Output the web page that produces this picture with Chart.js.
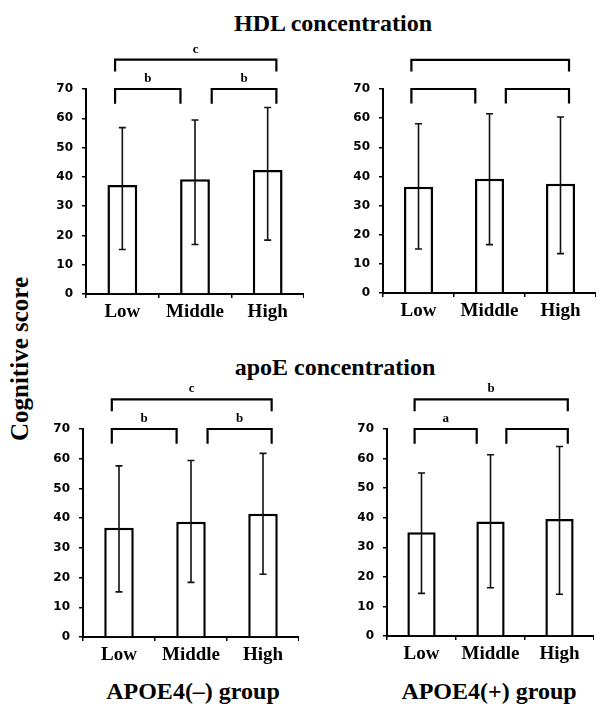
<!DOCTYPE html>
<html>
<head>
  <meta charset="UTF-8">
  <title>Cognitive score by HDL and apoE concentration</title>
  <script src="https://cdn.jsdelivr.net/npm/chart.js"></script>
  <style>
    body {
      margin: 0;
      padding: 0;
      width: 596px;
      height: 706px;
      position: relative;
      background-color: white;
      overflow: hidden;
      font-family: "Liberation Serif", "Times New Roman", serif;
      font-weight: bold;
      color: #000;
    }
    canvas {
      position: absolute;
    }
    .txt {
      position: absolute;
      white-space: nowrap;
      line-height: 1;
      transform: translate(-50%, -50%);
      font-size: 24px;
    }
  </style>
</head>
<body>
  <div class="txt" style="left:333px; top:23px;">HDL concentration</div>
  <div class="txt" style="left:335px; top:367px;">apoE concentration</div>
  <div class="txt" style="left:193px; top:691px;">APOE4(–) group</div>
  <div class="txt" style="left:489px; top:691px;">APOE4(+) group</div>
  <div class="txt" style="left:19px; top:359px; font-size:25px; transform: translate(-50%, -50%) rotate(-90deg);">Cognitive score</div>

  <canvas id="hdlNeg"></canvas>
  <canvas id="hdlPos"></canvas>
  <canvas id="apoeNeg"></canvas>
  <canvas id="apoePos"></canvas>

  <script type="text/javascript">
    const categories = ['Low', 'Middle', 'High'];
    const yTicks = [0, 10, 20, 30, 40, 50, 60, 70];

    // mean and error bar ends
    const hdlNegMean  = [37.2, 39.2, 42.3];
    const hdlNegUpper = [56.8, 59.4, 63.7];
    const hdlNegLower = [15.2, 16.9, 18.4];

    const hdlPosMean  = [36.5, 39.2, 37.5];
    const hdlPosUpper = [58.1, 61.5, 60.4];
    const hdlPosLower = [15.1, 16.6, 13.5];

    const apoeNegMean  = [36.8, 38.8, 41.5];
    const apoeNegUpper = [57.6, 59.4, 61.8];
    const apoeNegLower = [15.2, 18.4, 21.1];

    const apoePosMean  = [35.1, 38.7, 39.6];
    const apoePosUpper = [55.1, 61.3, 64.1];
    const apoePosLower = [14.4, 16.3, 14.1];

    // comparison brackets: Low-Middle, Middle-High, Low-High
    const bracketFrom  = [-0.1, 1.23, -0.1];
    const bracketTo    = [0.8, 2.12, 2.12];
    const bracketLevel = [70, 70, 80];
    const hdlNegLetters  = ['b', 'b', 'c'];
    const hdlPosLetters  = ['', '', ''];
    const apoeNegLetters = ['b', 'b', 'c'];
    const apoePosLetters = ['a', '', 'b'];

    // panel placement: y axis x, 70-line y, zero-line y, right end
    const panels = [
      { id: 'hdlNeg',  mean: hdlNegMean,  upper: hdlNegUpper,  lower: hdlNegLower,  letters: hdlNegLetters,  ax: 86,  top: 89,  zero: 294, right: 304 },
      { id: 'hdlPos',  mean: hdlPosMean,  upper: hdlPosUpper,  lower: hdlPosLower,  letters: hdlPosLetters,  ax: 383, top: 89,  zero: 293, right: 596 },
      { id: 'apoeNeg', mean: apoeNegMean, upper: apoeNegUpper, lower: apoeNegLower, letters: apoeNegLetters, ax: 83,  top: 429, zero: 637, right: 299 },
      { id: 'apoePos', mean: apoePosMean, upper: apoePosUpper, lower: apoePosLower, letters: apoePosLetters, ax: 387, top: 429, zero: 636, right: 594 }
    ];

    const Y_AXIS_W = 40;
    const PAD_TOP = 60;
    const X_AXIS_H = 34;

    const errorBars = {
      id: 'errorBars',
      afterDatasetsDraw(chart, args, opts) {
        const ctx = chart.ctx;
        const y = chart.scales.y;
        const meta = chart.getDatasetMeta(0);
        ctx.save();
        ctx.strokeStyle = '#111';
        ctx.lineWidth = 1.6;
        meta.data.forEach((bar, i) => {
          const yt = y.getPixelForValue(opts.upper[i]);
          const yb = y.getPixelForValue(opts.lower[i]);
          ctx.beginPath();
          ctx.moveTo(bar.x, yt);
          ctx.lineTo(bar.x, yb);
          ctx.moveTo(bar.x - 3.5, yt);
          ctx.lineTo(bar.x + 3.5, yt);
          ctx.moveTo(bar.x - 3.5, yb);
          ctx.lineTo(bar.x + 3.5, yb);
          ctx.stroke();
        });
        ctx.restore();
      }
    };

    const brackets = {
      id: 'brackets',
      afterDraw(chart, args, opts) {
        const ctx = chart.ctx;
        const x = chart.scales.x;
        const y = chart.scales.y;
        ctx.save();
        ctx.strokeStyle = '#000';
        ctx.lineWidth = 2.2;
        ctx.fillStyle = '#000';
        ctx.font = 'bold 13px "Liberation Serif"';
        ctx.textAlign = 'center';
        ctx.textBaseline = 'middle';
        for (let i = 0; i < bracketFrom.length; i++) {
          const x1 = x.getPixelForValue(bracketFrom[i]);
          const x2 = x.getPixelForValue(bracketTo[i]);
          const yl = y.getPixelForValue(bracketLevel[i]);
          const drop = i === 2 ? 4 : 5;
          const yd = y.getPixelForValue(bracketLevel[i] - drop);
          ctx.beginPath();
          ctx.moveTo(x1, yd);
          ctx.lineTo(x1, yl);
          ctx.lineTo(x2, yl);
          ctx.lineTo(x2, yd);
          ctx.stroke();
          if (opts.letters[i]) {
            ctx.fillText(opts.letters[i], (x1 + x2) / 2, y.getPixelForValue(bracketLevel[i] + 3.6));
          }
        }
        ctx.restore();
      }
    };

    panels.forEach(p => {
      const canvas = document.getElementById(p.id);
      const left = p.ax - Y_AXIS_W;
      const top = p.top - PAD_TOP;
      const w = p.right - left;
      const h = p.zero - top + X_AXIS_H;
      canvas.style.left = left + 'px';
      canvas.style.top = top + 'px';
      canvas.style.width = w + 'px';
      canvas.style.height = h + 'px';
      canvas.width = w;
      canvas.height = h;

      new Chart(canvas.getContext('2d'), {
        type: 'bar',
        data: {
          labels: categories,
          datasets: [{
            data: p.mean,
            backgroundColor: '#fff',
            borderColor: '#000',
            borderWidth: 2.5,
            barPercentage: 0.41,
            categoryPercentage: 1
          }]
        },
        options: {
          responsive: false,
          animation: false,
          events: [],
          layout: { padding: { top: PAD_TOP, right: 0, left: 0, bottom: 0 } },
          plugins: {
            legend: { display: false },
            tooltip: { enabled: false },
            errorBars: { upper: p.upper, lower: p.lower },
            brackets: { letters: p.letters }
          },
          scales: {
            x: {
              afterFit(scale) { scale.height = X_AXIS_H; },
              grid: { drawOnChartArea: false, tickLength: 4, color: '#000', lineWidth: 1.5 },
              border: { color: '#000', width: 2 },
              ticks: {
                color: '#000',
                padding: 3,
                font: { family: '"Liberation Serif"', size: 19, weight: 'bold' }
              }
            },
            y: {
              min: 0,
              max: 70,
              afterFit(scale) { scale.width = Y_AXIS_W; },
              afterBuildTicks(scale) { scale.ticks = yTicks.map(v => ({ value: v })); },
              grid: { drawOnChartArea: false, tickLength: 4, color: '#000', lineWidth: 1.5 },
              border: { color: '#000', width: 2 },
              ticks: {
                color: '#000',
                padding: 9,
                font: { family: '"DejaVu Sans"', size: 12, weight: 'bold' }
              }
            }
          }
        },
        plugins: [errorBars, brackets]
      });
    });
  </script>
</body>
</html>
